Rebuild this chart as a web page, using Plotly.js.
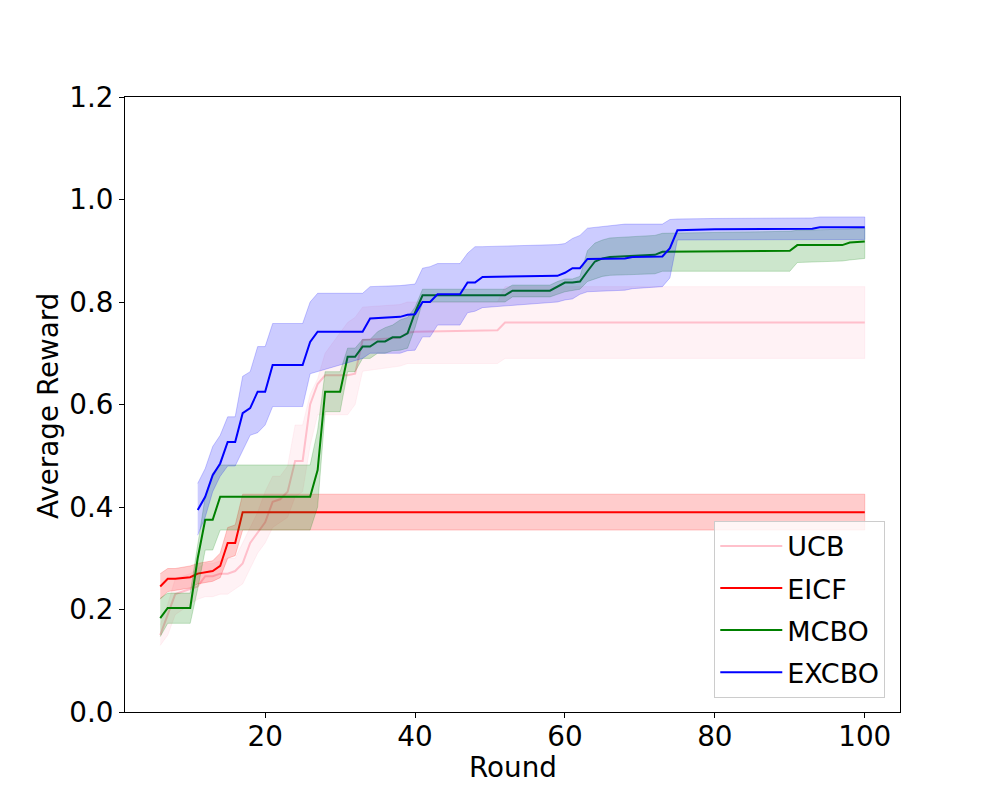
<!DOCTYPE html>
<html>
<head>
<meta charset="utf-8">
<script src="https://cdn.plot.ly/plotly-3.0.1.min.js"></script>
<style>html,body{margin:0;padding:0;background:#fff;}#chart{width:1000px;height:800px;}</style>
</head>
<body>
<div id="chart"></div>
<script>
// ---- UCB ----
const ucbRounds = [6,7,8,9,10,11,12,13,14,15,16,17,18,19,20,21,22,23,24,25,26,27,28,31,32,33,38,39,40,51,52,100];
const ucbMean   = [0.15,0.19,0.23,0.235,0.24,0.245,0.265,0.265,0.27,0.27,0.275,0.29,0.33,0.35,0.37,0.41,0.415,0.43,0.49,0.49,0.60,0.64,0.657,0.657,0.66,0.726,0.73,0.74,0.742,0.745,0.76,0.76];
const ucbUpper  = [0.17,0.21,0.26,0.265,0.27,0.28,0.29,0.29,0.295,0.30,0.30,0.33,0.36,0.39,0.43,0.46,0.46,0.48,0.56,0.56,0.62,0.65,0.70,0.76,0.77,0.79,0.795,0.80,0.80,0.80,0.83,0.83];
const ucbLower  = [0.13,0.15,0.19,0.20,0.21,0.22,0.225,0.225,0.23,0.23,0.24,0.25,0.28,0.31,0.33,0.36,0.37,0.38,0.42,0.43,0.52,0.58,0.58,0.58,0.60,0.665,0.675,0.68,0.68,0.68,0.69,0.69];

// ---- EICF ----
const eicfRounds = [6,7,8,9,10,11,12,13,14,15,16,17,100];
const eicfMean   = [0.245,0.26,0.26,0.262,0.263,0.27,0.272,0.275,0.285,0.33,0.33,0.39,0.39];
const eicfUpper  = [0.27,0.28,0.28,0.283,0.285,0.29,0.292,0.295,0.31,0.36,0.365,0.425,0.425];
const eicfLower  = [0.22,0.235,0.238,0.24,0.242,0.25,0.252,0.255,0.262,0.30,0.305,0.355,0.355];

// ---- MCBO ----
const mcboRounds = [6,7,10,11,12,13,14,26,27,28,30,31,32,33,34,35,36,37,38,39,40,41,52,53,58,59,60,61,62,63,64,65,66,72,73,90,91,97,98,99,100];
const mcboMean   = [0.183,0.203,0.203,0.30,0.375,0.375,0.42,0.42,0.472,0.625,0.625,0.693,0.693,0.713,0.713,0.723,0.723,0.731,0.731,0.739,0.78,0.813,0.813,0.822,0.822,0.83,0.838,0.838,0.84,0.86,0.879,0.885,0.888,0.892,0.898,0.90,0.911,0.911,0.916,0.917,0.918];
const mcboUpper  = [0.222,0.232,0.232,0.33,0.42,0.466,0.482,0.482,0.55,0.664,0.664,0.71,0.71,0.727,0.727,0.742,0.75,0.755,0.765,0.77,0.79,0.825,0.825,0.833,0.833,0.84,0.845,0.845,0.85,0.90,0.915,0.921,0.925,0.93,0.934,0.938,0.94,0.942,0.943,0.944,0.944];
const mcboLower  = [0.147,0.173,0.173,0.24,0.316,0.316,0.355,0.355,0.40,0.586,0.586,0.664,0.664,0.69,0.69,0.70,0.70,0.705,0.706,0.71,0.75,0.80,0.80,0.81,0.81,0.815,0.82,0.822,0.825,0.84,0.845,0.85,0.852,0.855,0.86,0.86,0.877,0.88,0.882,0.884,0.885];

// ---- EXCBO ----
const excboRounds = [11,12,13,14,15,16,17,18,19,20,21,25,26,27,33,34,38,39,40,41,42,43,46,47,48,49,59,60,61,62,63,68,69,73,74,75,80,93,94,100];
const excboMean   = [0.394,0.42,0.462,0.485,0.527,0.527,0.583,0.593,0.625,0.625,0.677,0.677,0.722,0.742,0.742,0.768,0.771,0.775,0.776,0.80,0.80,0.815,0.815,0.838,0.838,0.849,0.851,0.857,0.866,0.866,0.884,0.885,0.888,0.889,0.905,0.94,0.942,0.943,0.946,0.946];
const excboUpper  = [0.446,0.475,0.518,0.54,0.576,0.576,0.655,0.664,0.713,0.713,0.758,0.758,0.80,0.817,0.817,0.83,0.832,0.833,0.835,0.866,0.869,0.875,0.875,0.895,0.908,0.908,0.912,0.914,0.924,0.93,0.944,0.952,0.952,0.952,0.961,0.962,0.963,0.964,0.966,0.966];
const excboLower  = [0.345,0.38,0.43,0.46,0.48,0.48,0.51,0.54,0.545,0.56,0.596,0.596,0.66,0.664,0.69,0.70,0.70,0.705,0.706,0.732,0.732,0.755,0.755,0.779,0.782,0.789,0.80,0.804,0.806,0.815,0.82,0.823,0.826,0.83,0.847,0.921,0.921,0.922,0.922,0.922];

const xTickVals = [20,40,60,80,100];
const yTickVals = [0.0,0.2,0.4,0.6,0.8,1.0,1.2];
const xTitle = 'Round';
const yTitle = 'Average Reward';

const series = [
  {name:'UCB',   rgb:'255,192,203', x:ucbRounds,   m:ucbMean,   u:ucbUpper,   l:ucbLower},
  {name:'EICF',  rgb:'255,0,0',     x:eicfRounds,  m:eicfMean,  u:eicfUpper,  l:eicfLower},
  {name:'MCBO',  rgb:'0,128,0',     x:mcboRounds,  m:mcboMean,  u:mcboUpper,  l:mcboLower},
  {name:'EXCBO', rgb:'0,0,255',     x:excboRounds, m:excboMean, u:excboUpper, l:excboLower}
];

const traces = [];
series.forEach(s => {
  traces.push({
    x: s.x, y: s.m, mode: 'lines', name: s.name, legendgroup: s.name,
    line: {color: 'rgb(' + s.rgb + ')', width: 2}, hoverinfo: 'skip'
  });
  traces.push({
    x: s.x.concat(s.x.slice().reverse()),
    y: s.u.concat(s.l.slice().reverse()),
    mode: 'lines', fill: 'toself', showlegend: false, hoverinfo: 'skip',
    fillcolor: 'rgba(' + s.rgb + ',0.2)',
    line: {color: 'rgba(' + s.rgb + ',0.2)', width: 1}
  });
});

const FS = 27.8;
const axisCommon = {
  showline: true, linecolor: 'black', linewidth: 1, mirror: true,
  ticks: 'outside', ticklen: 5, tickwidth: 1, tickcolor: 'black',
  showgrid: false, zeroline: false,
  tickfont: {family: 'DejaVu Sans', size: FS, color: 'black'}
};

const layout = {
  width: 1000, height: 800,
  margin: {l: 125, r: 100, t: 97, b: 88},
  paper_bgcolor: 'white', plot_bgcolor: 'white',
  font: {family: 'DejaVu Sans', size: FS, color: 'black'},
  xaxis: Object.assign({}, axisCommon, {
    range: [1.3, 104.7], tickvals: xTickVals, ticktext: xTickVals.map(String),
    ticklabelstandoff: -5
  }),
  yaxis: Object.assign({}, axisCommon, {
    range: [0, 1.2], tickvals: yTickVals, ticktext: yTickVals.map(v => v.toFixed(1))
  }),
  annotations: [
    {text: xTitle, xref: 'paper', yref: 'paper', x: 0.5, y: -0.091,
     xanchor: 'center', yanchor: 'middle', showarrow: false,
     font: {family: 'DejaVu Sans', size: FS, color: 'black'}},
    {text: yTitle, xref: 'paper', yref: 'paper', x: -0.0994, y: 0.499, textangle: -90,
     xanchor: 'center', yanchor: 'middle', showarrow: false,
     font: {family: 'DejaVu Sans', size: FS, color: 'black'}}
  ],
  showlegend: true,
  legend: {
    x: 0.981, y: 0.023, xanchor: 'right', yanchor: 'bottom',
    bgcolor: 'rgba(255,255,255,0.8)', bordercolor: '#cccccc', borderwidth: 1,
    font: {family: 'DejaVu Sans', size: 27, color: 'black'},
    tracegroupgap: 4, itemwidth: 62
  }
};

Plotly.newPlot('chart', traces, layout, {displayModeBar: false, staticPlot: true});
</script>
</body>
</html>
